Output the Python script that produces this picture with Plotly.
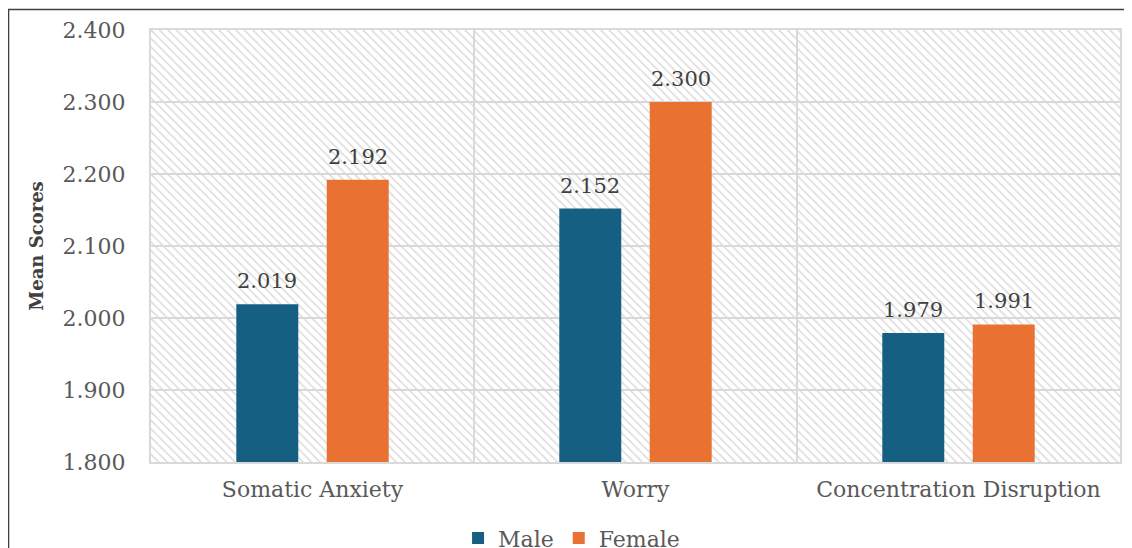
import plotly.graph_objects as go
import numpy as np

categories = ["Somatic Anxiety", "Worry", "Concentration Disruption"]
male = [2.019, 2.152, 1.979]
female = [2.192, 2.300, 1.991]
series_names = ["Male", "Female"]
y_ticks = [1.8, 1.9, 2.0, 2.1, 2.2, 2.3, 2.4]

Y_MIN, Y_MAX = y_ticks[0], y_ticks[-1]
N = len(categories)

MALE_COLOR = "#156082"
FEMALE_COLOR = "#E97132"
TEXT_COLOR = "#595959"
GRID = "#d9d9d9"
FONT = "DejaVu Serif"

# page body has an 8px margin; size the figure so it fills the window
W, H = 1124, 540
ML, MR, MT, MB = 143, 12, 22, 86
PW, PH = W - ML - MR, H - MT - MB

fig = go.Figure()

# hatched plot-area background (decoration) on the numeric base axis
fig.add_trace(go.Scatter(
    x=[0, N, N, 0, 0], y=[Y_MIN, Y_MIN, Y_MAX, Y_MAX, Y_MIN],
    xaxis="x", yaxis="y", mode="lines", line=dict(width=0),
    fill="toself", fillcolor="rgba(0,0,0,0)",
    fillpattern=dict(shape="\\", fgcolor="#dadada", bgcolor="rgba(0,0,0,0)",
                     size=6, solidity=0.25, fillmode="replace"),
    hoverinfo="skip", showlegend=False,
))

for name, vals, col in [(series_names[0], male, MALE_COLOR),
                        (series_names[1], female, FEMALE_COLOR)]:
    fig.add_trace(go.Bar(
        x=categories, y=vals, name=name, marker=dict(color=col, line=dict(width=0)),
        xaxis="x2", yaxis="y",
    ))

# data labels
shift = PW / N * (1 - 0.44) / 4
for vals, dx in [(male, -shift), (female, shift)]:
    for c, v in zip(categories, vals):
        fig.add_annotation(
            x=c, y=v, xref="x2", yref="y", text=f"{v:.3f}", showarrow=False,
            xshift=dx, yshift=23, yanchor="middle",
            font=dict(family=FONT, size=21, color="#404040"),
        )

# outer frame (top + left visible)
fig.add_shape(type="rect", xref="paper", yref="paper",
              x0=(0.5 - ML) / PW, x1=1.2, y0=-0.5, y1=1 + (MT - 1.5) / PH,
              line=dict(color="#404040", width=1.6), fillcolor="rgba(0,0,0,0)",
              layer="above")

fig.update_layout(
    width=W, height=H,
    margin=dict(l=ML, r=MR, t=MT, b=MB, autoexpand=False),
    paper_bgcolor="white", plot_bgcolor="white",
    barmode="group", bargap=0.44, bargroupgap=0.315,
    font=dict(family=FONT, size=22, color=TEXT_COLOR),
    xaxis=dict(range=[0, N], showticklabels=False, showgrid=True, dtick=1, tick0=0,
               gridcolor=GRID, gridwidth=2, zeroline=False,
               showline=True, mirror=True, linecolor=GRID, linewidth=2, fixedrange=True),
    xaxis2=dict(overlaying="x", anchor="y", side="bottom", type="category",
                range=[-0.5, N - 0.5], showgrid=False, showline=False, zeroline=False,
                ticks="", ticklabelstandoff=12,
                tickfont=dict(family=FONT, size=22, color=TEXT_COLOR)),
    yaxis=dict(range=[Y_MIN, Y_MAX], tickvals=y_ticks, tickformat=".3f",
               showgrid=True, gridcolor=GRID, gridwidth=2, zeroline=False,
               showline=True, mirror=True, linecolor=GRID, linewidth=2,
               ticks="", ticklabelstandoff=19,
               tickfont=dict(family=FONT, size=22, color=TEXT_COLOR),
               title=dict(text="<b>Mean Scores</b>", standoff=14,
                          font=dict(family=FONT, size=18, color="#404040"))),
    legend=dict(orientation="h", x=0.434, xanchor="center", y=-0.128, yanchor="top",
                font=dict(family=FONT, size=22, color=TEXT_COLOR),
                itemwidth=30, tracegroupgap=0),
    showlegend=True,
)

fig.write_html("out.html")
